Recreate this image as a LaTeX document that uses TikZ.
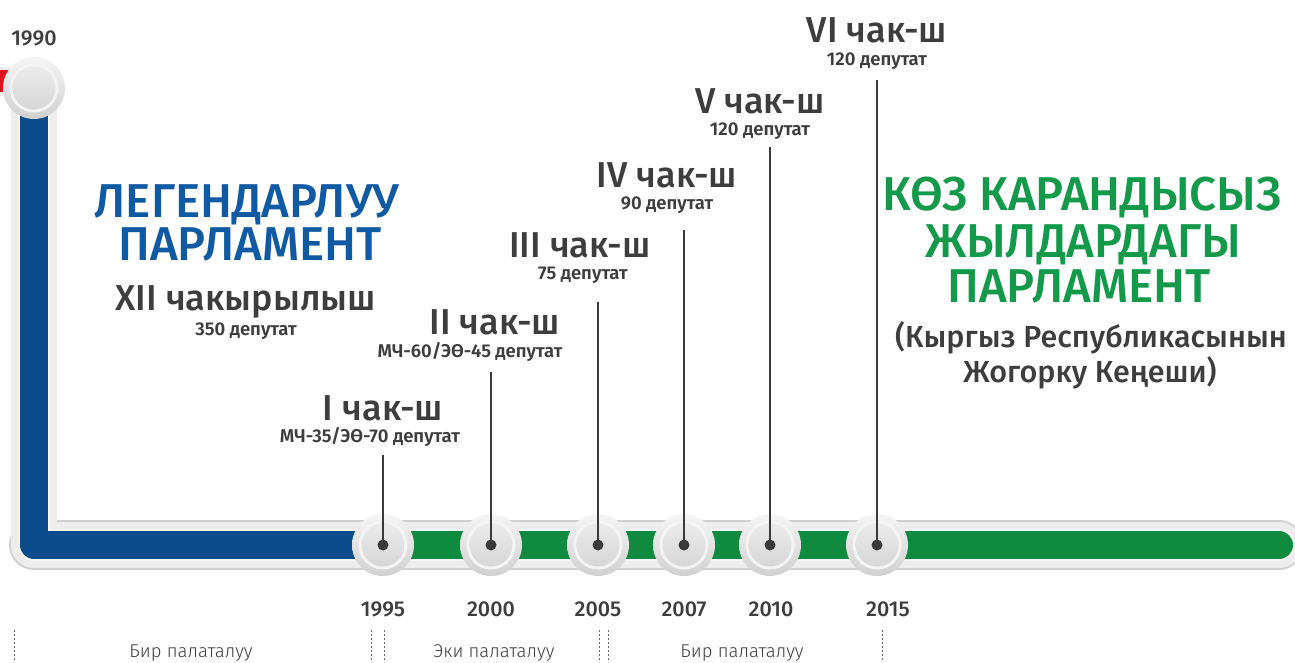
\documentclass[tikz,border=0pt]{standalone}
\usepackage{fontspec}
\setmainfont{Fira Sans}
\IfFontExistsTF{Fira Sans Medium}{\newfontfamily\fmed{Fira Sans Medium}}{\newfontfamily\fmed{Fira Sans}}
\IfFontExistsTF{Fira Sans SemiBold}{\newfontfamily\fsemi{Fira Sans SemiBold}}{\newfontfamily\fsemi{Fira Sans}[UprightFont={* Bold}]}
\IfFontExistsTF{Fira Sans Light}{\newfontfamily\flight{Fira Sans Light}}{\newfontfamily\flight{Fira Sans}}
\definecolor{txt}{HTML}{3D3D3D}
\definecolor{blueT}{HTML}{0F5AA2}
\definecolor{greenT}{HTML}{12994A}
\definecolor{trackBlue}{HTML}{0C4C8C}
\definecolor{trackGreen}{HTML}{0F8B40}
\definecolor{trackRed}{HTML}{E3101B}
\definecolor{haloL}{HTML}{EDEDED}
\definecolor{haloD}{HTML}{D0D0D0}
\definecolor{stripe}{HTML}{F6F6F6}
\definecolor{ringc}{HTML}{F4F4F4}
\definecolor{dotc}{HTML}{3A3A3A}
\definecolor{dotline}{HTML}{6A6A6A}
\begin{document}
\begin{tikzpicture}[x=1pt,y=-1pt,
  head/.style={font=\fmed\fontsize{47.5}{50}\selectfont, anchor=base, inner sep=0pt},
  chak/.style={font=\fmed\fontsize{36}{40}\selectfont, text=txt, anchor=base, inner sep=0pt},
  sub/.style={font=\fsemi\fontsize{18.5}{20}\selectfont, text=txt, anchor=base, inner sep=0pt},
  yearlbl/.style={font=\fmed\fontsize{21.5}{24}\selectfont, text=txt, anchor=base, inner sep=0pt},
  palat/.style={font=\flight\fontsize{18.5}{20}\selectfont, text=txt, anchor=base, inner sep=0pt},
  note/.style={font=\fmed\fontsize{30.5}{34}\selectfont, text=txt, anchor=base, inner sep=0pt},
  knob/.style={circle, minimum size=62pt, inner sep=0pt, top color=white!96!black, bottom color=haloD,
    path picture={
      \fill[ringc] (path picture bounding box.center) circle (24.5pt);
      \shade[top color=white!92!black, bottom color=white!84!black] (path picture bounding box.center) circle (21.5pt);
    }},
  stem/.style={draw=dotc, line width=1.3pt},
  sep/.style={draw=dotline, line width=0.8pt, dash pattern=on 2pt off 2pt}
]
\useasboundingbox (0,0) rectangle (1295,662);

% key points of the track
\coordinate (rs) at (-12,81);
\coordinate (rt) at (34,81);
\coordinate (vt) at (34,88);
\coordinate (corner) at (34,545);
\coordinate (tend) at (1279,545);
\coordinate (p1995) at (383,545);

% halo of the track
\draw[haloD, line width=50pt, line cap=round, yshift=-3pt, xshift=-1pt] (corner) -- (tend);
\draw[haloL, line width=46pt, line join=round, line cap=round, yshift=1pt, xshift=-1pt] (vt) -- (corner) -- (tend);
\draw[stripe, line width=32pt, line join=round, line cap=round, yshift=-1.5pt] (vt) -- (corner) -- (tend);
% red piece
\draw[haloL, line width=29pt] (rs) -- (rt);
\draw[trackRed, line width=22pt] (rs) -- (rt);
% coloured bands
\draw[trackBlue, line width=28pt, line join=round] (vt) -- (corner) -- (p1995);
\draw[trackGreen, line width=28pt, line cap=round] (p1995) -- (tend);

% knobs
\node[knob] (k1990) at (34,88) {};
\node[knob] (k1995) at (p1995) {};
\node[knob] (k2000) at (491,545) {};
\node[knob] (k2005) at (598,545) {};
\node[knob] (k2007) at (684,545) {};
\node[knob] (k2010) at (770,545) {};
\node[knob] (k2015) at (877,545) {};

% stems
\coordinate (t1995) at (383,455);
\coordinate (t2000) at (491,372);
\coordinate (t2005) at (598,302);
\coordinate (t2007) at (684,230);
\coordinate (t2010) at (770,147);
\coordinate (t2015) at (877,80);
\foreach \y in {1995,2000,2005,2007,2010,2015}{
  \draw[stem] (k\y.center) -- (t\y);
  \fill[dotc] (k\y.center) circle (5.5pt);
}

% left titles
\node[head, text=blueT] (lg1) at (247,217) {ЛЕГЕНДАРЛУУ};
\node[head, text=blueT] (lg2) at (250,260) {ПАРЛАМЕНТ};
\node[chak] (xii) at (246,310) {XII чакырылыш};
\node[sub] (xiis) at (246,335) {350 депутат};

% convocations
\node[chak] (c1) at (383,420) {I чак-ш};
\node[sub] (c1s) at (370,442) {МЧ-35/ЭӨ-70 депутат};
\node[chak] (c2) at (495,334) {II чак-ш};
\node[sub] (c2s) at (470,357) {МЧ-60/ЭӨ-45 депутат};
\node[chak] (c3) at (580,257) {III чак-ш};
\node[sub] (c3s) at (583,279) {75 депутат};
\node[chak] (c4) at (667,187) {IV чак-ш};
\node[sub] (c4s) at (667,209) {90 депутат};
\node[chak] (c5) at (760,113) {V чак-ш};
\node[sub] (c5s) at (760,135) {120 депутат};
\node[chak] (c6) at (877,42) {VI чак-ш};
\node[sub] (c6s) at (877,65) {120 депутат};

% right titles
\node[head, text=greenT] (gr1) at (1082,210) {КӨЗ КАРАНДЫСЫЗ};
\node[head, text=greenT] (gr2) at (1083,257) {ЖЫЛДАРДАГЫ};
\node[head, text=greenT] (gr3) at (1079,302) {ПАРЛАМЕНТ};
\node[note] (n1) at (1091,347) {(Кыргыз Республикасынын};
\node[note] (n2) at (1090,382) {Жогорку Кеңеши)};

% years
\node[yearlbl] (y1990) at (34,45) {1990};
\node[yearlbl] (y1995) at (383,616) {1995};
\node[yearlbl] (y2000) at (491,616) {2000};
\node[yearlbl] (y2005) at (598,616) {2005};
\node[yearlbl] (y2007) at (684,616) {2007};
\node[yearlbl] (y2010) at (771,616) {2010};
\node[yearlbl] (y2015) at (888,616) {2015};

% separators
\foreach \x [count=\i] in {14,371,384,599,608,882}{
  \coordinate (sa\i) at (\x,630);
  \coordinate (sb\i) at (\x,662);
  \draw[sep] (sa\i) -- (sb\i);
}
\node[palat] (pl1) at (191,657) {Бир палаталуу};
\node[palat] (pl2) at (494,657) {Эки палаталуу};
\node[palat] (pl3) at (742,657) {Бир палаталуу};
\end{tikzpicture}
\end{document}
